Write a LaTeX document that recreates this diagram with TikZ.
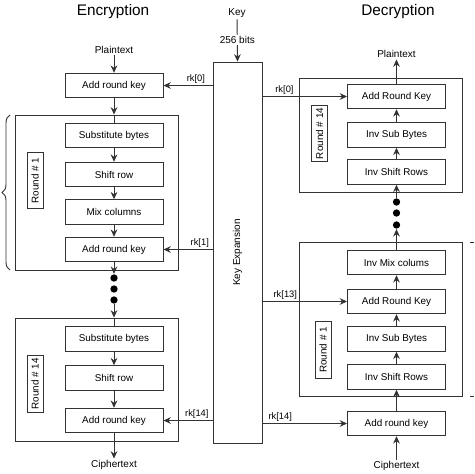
\documentclass[tikz,border=0pt]{standalone}
\usepackage{fontspec}
\setmainfont{Liberation Sans}
\usetikzlibrary{arrows.meta,decorations.pathreplacing}

\begin{document}
\begin{tikzpicture}
[x=0.75pt,y=-0.75pt,>={Stealth[length=5.5pt,width=5pt]},line width=0.7pt,
 stage/.style={draw=black!80,minimum width=73.5pt,minimum height=18.4pt,inner sep=0pt,font=\fontsize{7.4}{9}\selectfont},
 roundbox/.style={draw=black!80,minimum width=122.25pt,inner sep=0pt},
 tag/.style={draw=black!80,rotate=90,minimum width=42.5pt,minimum height=12pt,inner sep=0pt,font=\fontsize{7.4}{9}\selectfont},
 txt/.style={font=\fontsize{7.5}{9}\selectfont,inner sep=1pt},
 lbl/.style={font=\fontsize{7}{8}\selectfont,inner sep=1.5pt},
 title/.style={font=\fontsize{11.5}{13}\selectfont},
 dot/.style={circle,fill=black,inner sep=0pt,minimum size=5.5pt},
 wire/.style={draw=black!80}]

\useasboundingbox (0,0) rectangle (474,474);

% the titles
\node[title] (enc) at (113,12) {Encryption};
\node[title] (dec) at (398,12) {Decryption};

% the key schedule
\node[txt] (key) at (237,13) {Key};
\node[draw=black!80,minimum width=36.75pt,minimum height=285.75pt] (kexp) at (237.5,252.5) {};
\node[txt,rotate=90] (kexplbl) at (kexp) {Key Expansion};
\draw[wire,->] (key) -- node[txt,fill=white] {256 bits} (kexp.north);

% encryption side
\node[txt] (ptl) at (114,50) {Plaintext};
\node[stage] (ark0) at (114,85.5) {Add round key};

\node[roundbox,minimum height=116.25pt] (er1) at (96.5,192.5) {};
\node[stage] (sb1) at (114,135.5) {Substitute bytes};
\node[stage] (sr1) at (114,174.5) {Shift row};
\node[stage] (mc1) at (114,212) {Mix columns};
\node[stage] (ark1) at (114,249.5) {Add round key};
\node[tag] (er1tag) at (35,180.5) {Round \# 1};

\node[dot] (ld1) at (114,278) {};
\node[dot] (ld2) at (114,289) {};
\node[dot] (ld3) at (114,300) {};

\node[roundbox,minimum height=92.25pt] (er14) at (96.5,379.5) {};
\node[stage] (sb14) at (114,339) {Substitute bytes};
\node[stage] (sr14) at (114,378) {Shift row};
\node[stage] (ark14) at (114,420.5) {Add round key};
\node[tag] (er14tag) at (35,384) {Round \# 14};
\node[txt] (ctl) at (114,465) {Ciphertext};

% decryption side
\node[txt] (ptr) at (396.5,54) {Plaintext};
\node[roundbox,minimum height=85.5pt] (dr14) at (380.5,135) {};
\node[stage] (dark0) at (396.5,96.5) {Add Round Key};
\node[stage] (isb14) at (396.5,135) {Inv Sub Bytes};
\node[stage] (isr14) at (396.5,172) {Inv Shift Rows};
\node[tag] (dr14tag) at (319.5,133.5) {Round \# 14};

\node[dot] (rd1) at (396.5,202) {};
\node[dot] (rd2) at (396.5,213) {};
\node[dot] (rd3) at (396.5,225) {};

\node[roundbox,minimum height=115.5pt] (dr1) at (380.5,319) {};
\node[stage] (imc) at (396.5,262.5) {Inv Mix colums};
\node[stage] (dark13) at (396.5,301.5) {Add Round Key};
\node[stage] (isb1) at (396.5,339) {Inv Sub Bytes};
\node[stage] (isr1) at (396.5,377) {Inv Shift Rows};
\node[tag] (dr1tag) at (323,350) {Round \# 1};
\node[stage] (dark14) at (396.5,423.5) {Add round key};
\node[txt] (ctr) at (396.5,466) {Ciphertext};

% the data path, encryption
\draw[wire,->] (ptl) -- (ark0);
\draw[wire,->] (ark0) -- (sb1 |- er1.north);
\draw[wire] (sb1 |- er1.north) -- (sb1);
\draw[wire,->] (sb1) -- (sr1);
\draw[wire,->] (sr1) -- (mc1);
\draw[wire,->] (mc1) -- (ark1);
\draw[wire,->] (ark1) -- (ld1);
\draw[wire,->] (ld3) -- (sb14 |- er14.north);
\draw[wire] (sb14 |- er14.north) -- (sb14);
\draw[wire,->] (sb14) -- (sr14);
\draw[wire,->] (sr14) -- (ark14);
\draw[wire,->] (ark14) -- (ctl);

% the data path, decryption
\draw[wire,->] (ctr) -- (dark14);
\draw[wire,->] (dark14) -- (isr1);
\draw[wire,->] (isr1) -- (isb1);
\draw[wire,->] (isb1) -- (dark13);
\draw[wire,->] (dark13) -- (imc);
\draw[wire,->] (imc) -- (rd3);
\draw[wire,->] (rd1) -- (isr14);
\draw[wire,->] (isr14) -- (isb14);
\draw[wire,->] (isb14) -- (dark0);
\draw[wire,->] (dark0) -- (ptr);

% the round keys
\draw[wire,->] (kexp.west |- ark0) -- node[lbl,above,pos=0.34] {rk[0]} (ark0);
\draw[wire,->] (kexp.west |- ark1) -- node[lbl,above,pos=0.26] {rk[1]} (ark1);
\draw[wire,->] (kexp.west |- ark14) -- node[lbl,above,pos=0.32] {rk[14]} (ark14);
\draw[wire,->] (kexp.east |- dark0) -- node[lbl,above,pos=0.26] {rk[0]} (dark0);
\draw[wire,->] (kexp.east |- dark13) -- node[lbl,above,pos=0.27] {rk[13]} (dark13);
\draw[wire,->] (kexp.east |- dark14) -- node[lbl,above,pos=0.21] {rk[14]} (dark14);

% the braces, cut off at the edges
\draw[wire,decorate,decoration={brace,amplitude=6pt}] (10,270) -- (10,115);
\draw[wire] (470,242) -- (474,242);
\draw[wire] (470,396) -- (474,396);

\end{tikzpicture}
\end{document}
